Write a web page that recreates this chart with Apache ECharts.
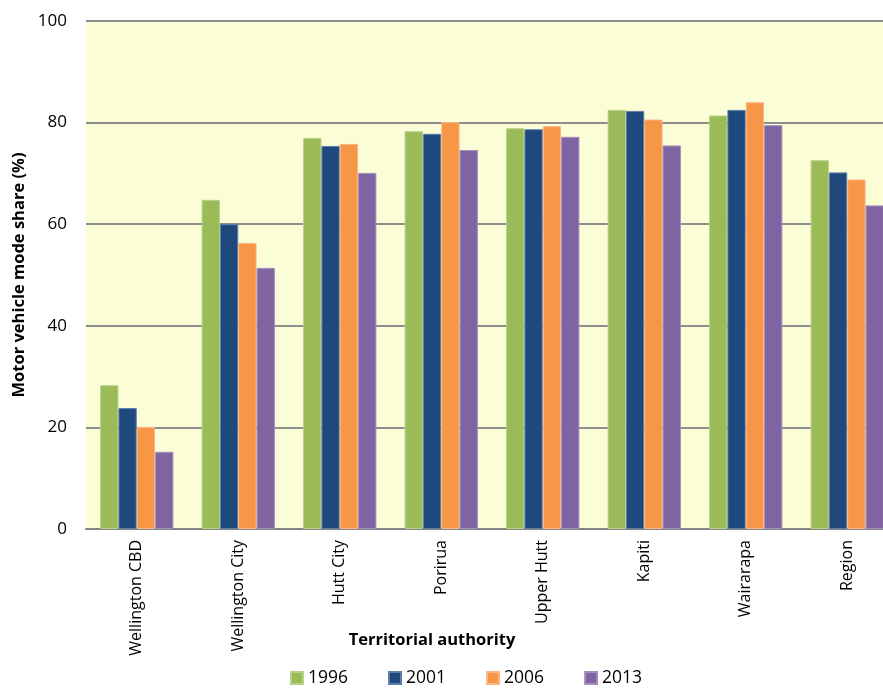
<!DOCTYPE html>
<html>
<head>
<meta charset="utf-8">
<script src="https://cdn.jsdelivr.net/npm/echarts@6/dist/echarts.min.js"></script>
<style>
  html, body { margin: 0; padding: 0; background: #ffffff; overflow: hidden; }
  #chart { width: 898px; height: 688px; }
</style>
</head>
<body>
<div id="chart"></div>
<script>
// Motor vehicle mode share by territorial authority, census years
const categories = ['Wellington CBD', 'Wellington City', 'Hutt City', 'Porirua', 'Upper Hutt', 'Kapiti', 'Wairarapa', 'Region'];
const years = ['1996', '2001', '2006', '2013'];
const share1996 = [28.3, 64.8, 77.0, 78.3, 78.9, 82.5, 81.4, 72.6];
const share2001 = [23.8, 60.0, 75.4, 77.8, 78.7, 82.3, 82.5, 70.2];
const share2006 = [20.1, 56.3, 75.8, 80.1, 79.3, 80.6, 84.0, 68.8];
const share2013 = [15.2, 51.4, 70.1, 74.6, 77.2, 75.5, 79.5, 63.7];
const yTicks = [0, 20, 40, 60, 80, 100];

const colors = ['#9BBB59', '#1F497D', '#F79646', '#8064A2'];
const borders = ['#B9D08A', '#5C7FA8', '#FBB685', '#A28FBE'];
const seriesValues = [share1996, share2001, share2006, share2013];

const FONT = '"Open Sans", "Noto Sans", sans-serif';

// The plot runs slightly past the right edge of the visible page
const chart = echarts.init(document.getElementById('chart'), null, { renderer: 'canvas' });

const option = {
  animation: false,
  backgroundColor: '#ffffff',
  color: colors,
  grid: {
    left: 86,
    top: 21,
    right: 0,
    bottom: 159,
    show: true,
    backgroundColor: '#FBFDD7',
    borderWidth: 0
  },
  legend: {
    data: years,
    top: 669,
    left: 290,
    itemWidth: 12,
    itemHeight: 12,
    itemGap: 40,
    icon: 'rect',
    padding: 0,
    textStyle: { fontFamily: FONT, fontSize: 17.5, color: '#000' }
  },
  xAxis: {
    type: 'category',
    data: categories,
    axisLine: { lineStyle: { color: '#858585', width: 2 } },
    axisTick: { show: false },
    axisLabel: {
      rotate: 90,
      margin: 11,
      fontFamily: FONT,
      fontSize: 16,
      color: '#000'
    }
  },
  yAxis: {
    type: 'value',
    min: yTicks[0],
    max: yTicks[yTicks.length - 1],
    interval: 20,
    axisLine: { show: false },
    axisTick: { show: false },
    axisLabel: {
      margin: 19,
      fontFamily: FONT,
      fontSize: 17,
      color: '#000'
    },
    splitLine: { lineStyle: { color: '#8E8E8E', width: 2 } }
  },
  series: years.map((y, i) => ({
    name: y,
    type: 'bar',
    data: seriesValues[i],
    barGap: '0%',
    barCategoryGap: '27.8%',
    itemStyle: { color: colors[i], borderColor: borders[i], borderWidth: 1 }
  })),
  graphic: [
    {
      type: 'text',
      x: 432,
      y: 640,
      style: {
        text: 'Territorial authority',
        x: 0,
        y: 0,
        align: 'center',
        verticalAlign: 'middle',
        font: 'bold 16.5px ' + FONT,
        fill: '#000'
      }
    },
    {
      type: 'text',
      x: 19,
      y: 275,
      rotation: Math.PI / 2,
      style: {
        text: 'Motor vehicle mode share (%)',
        x: 0,
        y: 0,
        align: 'center',
        verticalAlign: 'middle',
        font: 'bold 16.5px ' + FONT,
        fill: '#000'
      }
    }
  ]
};

chart.setOption(option);
</script>
</body>
</html>
